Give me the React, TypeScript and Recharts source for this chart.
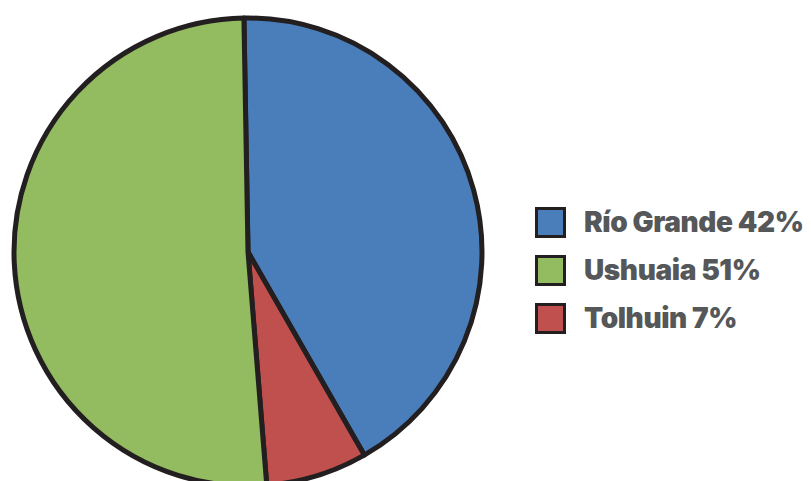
import { PieChart, Pie, Cell, Legend } from "recharts";

const regions = ["Río Grande", "Tolhuin", "Ushuaia"];
const shares = [42, 7, 51];
const legendOrder = ["Río Grande", "Ushuaia", "Tolhuin"];
const colors: Record<string, string> = {
  "Río Grande": "#4a7ebb",
  Ushuaia: "#93bb60",
  Tolhuin: "#c0504d",
};

const data = regions.map((name, i) => ({ name, value: shares[i] }));

const LegendBox = () => (
  <div style={{ display: "flex", flexDirection: "column", gap: 17 }}>
    {legendOrder.map((name) => {
      const v = shares[regions.indexOf(name)];
      return (
        <div key={name} style={{ display: "flex", alignItems: "center", height: 31 }}>
          <div
            style={{
              width: 25,
              height: 25,
              background: colors[name],
              border: "3px solid #231f20",
              marginRight: 18,
            }}
          />
          <span style={{ fontSize: 28, fontWeight: 900, color: "#555759", letterSpacing: -0.4, lineHeight: "31px" }}>
            {name} {v}%
          </span>
        </div>
      );
    })}
  </div>
);

export default function App() {
  return (
    <div style={{ position: "absolute", left: 0, top: 0, fontFamily: "Inter, sans-serif" }}>
      <PieChart width={811} height={481} margin={{ top: 0, right: 0, bottom: 0, left: 0 }}>
        <Pie
          data={data}
          dataKey="value"
          nameKey="name"
          cx={248}
          cy={252}
          outerRadius={234}
          startAngle={91}
          endAngle={-269}
          stroke="#231f20"
          strokeWidth={5}
          strokeLinejoin="round"
          isAnimationActive={false}
        >
          {data.map((d) => (
            <Cell key={d.name} fill={colors[d.name]} />
          ))}
        </Pie>
        <Legend
          content={<LegendBox />}
          wrapperStyle={{ left: 535, top: 207, width: 276, bottom: "auto" }}
        />
      </PieChart>
    </div>
  );
}
